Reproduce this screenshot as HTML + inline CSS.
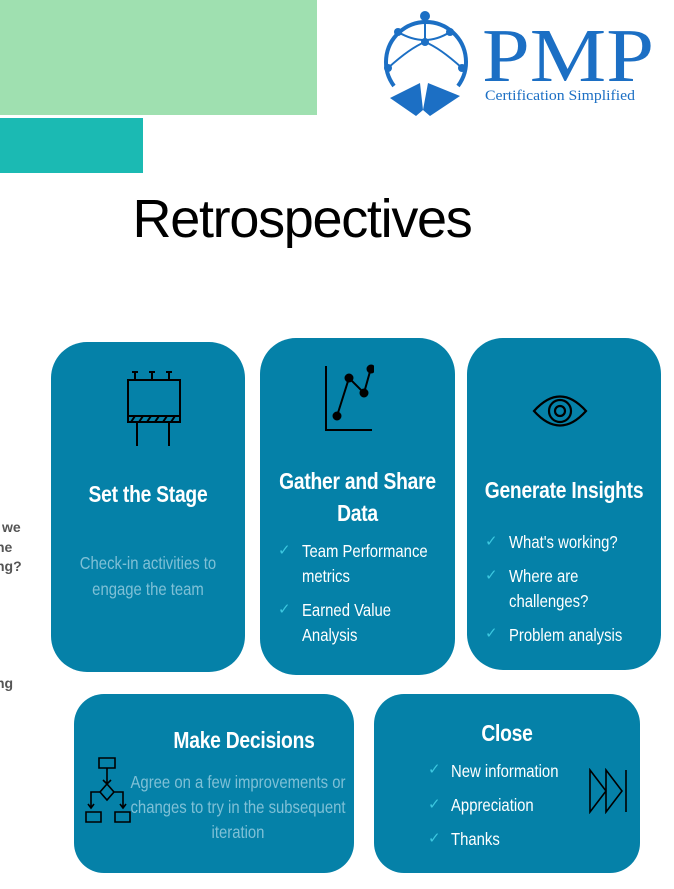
<!DOCTYPE html>
<html><head><style>
body{margin:0;width:674px;height:889px;background:#fff;position:relative;overflow:hidden;font-family:"Liberation Sans",sans-serif}
.a{position:absolute}
.card{position:absolute;background:#0581a8;color:#fff}
.t{position:absolute;left:-40px;right:-40px;text-align:center;font-weight:bold;font-size:23.5px;line-height:32px;transform:scaleX(0.82);letter-spacing:-0.3px}
.l{position:absolute;font-size:17.5px;line-height:25px;color:#fff;transform:scaleX(0.85);transform-origin:left top;white-space:nowrap}
.ck{position:absolute;color:#3cc7df;font-size:15px}
.g{font-weight:bold;color:#555;font-size:14px;position:absolute;left:-4px}
.c{position:absolute;left:-40px;right:-40px;text-align:center;font-size:17.5px;line-height:26px;color:#7fc0d6;transform:scaleX(0.85);white-space:nowrap}
</style></head><body>
<div class="a" style="left:0;top:0;width:317px;height:115px;background:#9fe0b0"></div>
<div class="a" style="left:0;top:118px;width:143px;height:55px;background:#1bbab3"></div>
<svg class="a" style="left:380px;top:8px" width="290" height="110">
<path d="M14 78 A40 40 0 1 1 78 78" fill="none" stroke="#1c6fc4" stroke-width="4"/>
<path d="M18 24 Q45 40 70 24 M45 8 L45 34 M8 60 Q30 40 45 34 Q60 40 82 60" fill="none" stroke="#1c6fc4" stroke-width="2"/>
<path d="M10 90 L40 75 L43 102 L48 75 L80 88 L50 108 L43 102 L36 108 Z" fill="#1c6fc4"/>
<circle cx="45" cy="8" r="5" fill="#1c6fc4"/><circle cx="18" cy="24" r="4" fill="#1c6fc4"/><circle cx="70" cy="24" r="4" fill="#1c6fc4"/><circle cx="45" cy="34" r="4" fill="#1c6fc4"/><circle cx="8" cy="60" r="4" fill="#1c6fc4"/><circle cx="82" cy="60" r="4" fill="#1c6fc4"/>
<text x="102" y="73" font-family="Liberation Serif" font-size="76" fill="#1c6fc4" textLength="172" lengthAdjust="spacingAndGlyphs">PMP</text>
<text x="105" y="92" font-family="Liberation Serif" font-size="15" fill="#1c6fc4" textLength="150" lengthAdjust="spacingAndGlyphs">Certification Simplified</text>
</svg>
<div class="a" style="left:0;width:604px;top:192px;text-align:center;font-size:54px;line-height:54px;color:#000;letter-spacing:-1.3px">Retrospectives</div>
<div class="g" style="top:519px;left:2px">we</div>
<div class="g" style="top:539px">he</div>
<div class="g" style="top:558px">ng?</div>
<div class="g" style="top:675px">ng</div>

<div class="card" style="left:51px;top:342px;width:194px;height:330px;border-radius:36px">
<svg class="a" style="left:74px;top:26px" width="58" height="80" stroke="#000" stroke-width="2" fill="none">
<path d="M3 12h52v36H3zM3 48h52v6H3zM12 54v24M44 54v24M10 4v8M27 4v8M44 4v8M7 4h6M24 4h6M41 4h6M6 54l4-6M14 54l4-6M22 54l4-6M30 54l4-6M38 54l4-6M46 54l4-6"/></svg>
<div class="t" style="top:136px">Set the Stage</div>
<div class="c" style="top:208px">Check-in activities to<br>engage the team</div>
</div>

<div class="card" style="left:260px;top:338px;width:195px;height:337px;border-radius:36px">
<svg class="a" style="left:62px;top:26px" width="52" height="70" stroke="#000" stroke-width="2" fill="#000">
<path d="M4 2v64h46" fill="none"/><path d="M15 52l12-38 15 15 7-25" fill="none"/>
<circle cx="15" cy="52" r="3.5"/><circle cx="27" cy="14" r="3.5"/><circle cx="42" cy="29" r="3.5"/><circle cx="49" cy="5" r="3.5"/></svg>
<div class="t" style="top:127px">Gather and Share<br>Data</div>
<span class="ck" style="left:18px;top:203px">✓</span><div class="l" style="left:42px;top:201px">Team Performance<br>metrics</div>
<span class="ck" style="left:18px;top:262px">✓</span><div class="l" style="left:42px;top:260px">Earned Value<br>Analysis</div>
</div>

<div class="card" style="left:467px;top:338px;width:194px;height:332px;border-radius:36px">
<svg class="a" style="left:64px;top:52px" width="58" height="42" stroke="#000" stroke-width="2.2" fill="none">
<path d="M3 21Q29 -8 55 21Q29 50 3 21Z"/><circle cx="29" cy="21" r="11"/><circle cx="29" cy="21" r="5"/></svg>
<div class="t" style="top:136px;white-space:nowrap">Generate Insights</div>
<span class="ck" style="left:18px;top:194px">✓</span><div class="l" style="left:42px;top:192px">What's working?</div>
<span class="ck" style="left:18px;top:228px">✓</span><div class="l" style="left:42px;top:226px">Where are<br>challenges?</div>
<span class="ck" style="left:18px;top:286px">✓</span><div class="l" style="left:42px;top:285px">Problem analysis</div>
</div>

<div class="card" style="left:74px;top:694px;width:280px;height:179px;border-radius:30px">
<div class="t" style="left:20px;top:30px;white-space:nowrap">Make Decisions</div>
<svg class="a" style="left:10px;top:62px" width="50" height="72" stroke="#000" stroke-width="1.6" fill="none">
<path d="M15 2h16v10H15zM23 12v16M19 24l4 4 4-4M23 28l7 8-7 8-7-8zM16 36H7v16M30 36h9v16M4 48l3 4 3-4M36 48l3 4 3-4M2 56h15v10H2zM31 56h15v10H31z"/></svg>
<div class="c" style="left:8px;right:-40px;top:76px;line-height:25px">Agree on a few improvements or<br>changes to try in the subsequent<br>iteration</div>
</div>

<div class="card" style="left:374px;top:694px;width:266px;height:179px;border-radius:30px">
<div class="t" style="top:23px">Close</div>
<span class="ck" style="left:54px;top:66px">✓</span><div class="l" style="left:77px;top:65px">New information</div>
<span class="ck" style="left:54px;top:101px">✓</span><div class="l" style="left:77px;top:99px">Appreciation</div>
<span class="ck" style="left:54px;top:135px">✓</span><div class="l" style="left:77px;top:133px">Thanks</div>
<svg class="a" style="left:214px;top:74px" width="42" height="46" stroke="#000" stroke-width="1.6" fill="none">
<path d="M2 2l16 21L2 44zM18 2l16 21-16 21zM38 2v42"/></svg>
</div>
</body></html>
